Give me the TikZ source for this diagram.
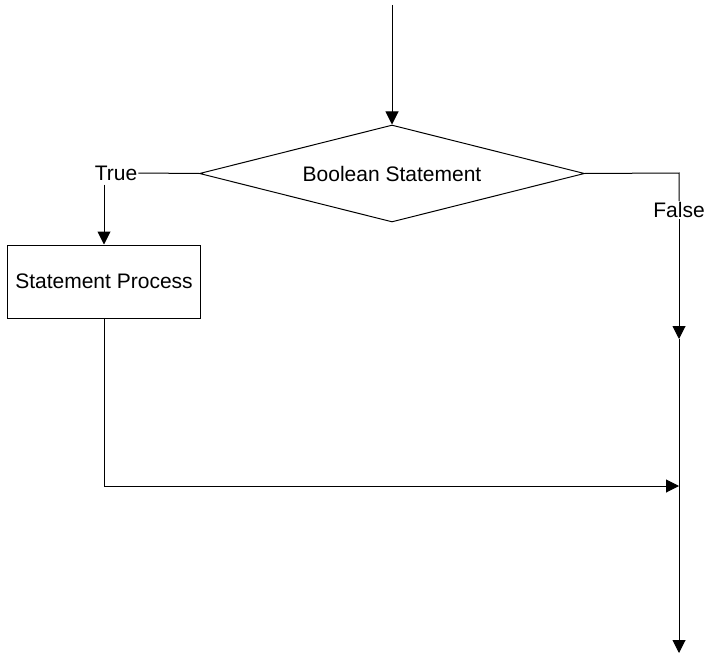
\documentclass[tikz,border=0pt]{standalone}
\usepackage{fontspec}
\setmainfont{Liberation Sans}
\usetikzlibrary{shapes.geometric,arrows.meta}
\begin{document}
\begin{tikzpicture}[x=1bp,y=-1bp,
  every node/.style={font=\fontsize{21bp}{25bp}\selectfont},
  line/.style={draw=black,line width=1bp},
  flow/.style={line,-{Triangle[length=13bp,width=13bp]}},
  decision/.style={line,shape=diamond,aspect=4,inner sep=0pt,
    minimum width=385bp,minimum height=97bp},
  process/.style={line,rectangle,inner sep=0pt,
    minimum width=192bp,minimum height=73bp},
  label/.style={inner sep=1bp}]
  \useasboundingbox (0,0) rectangle (709,655);

  % shapes
  \node[decision] (dec) at (392,173.5) {Boolean Statement};
  \node[process] (proc) at (104,281.5) {Statement Process};
  \node[label] (yes) at (116,173) {True};
  \node[label] (no) at (679,210) {False};

  % junction points on the right-hand trunk
  \coordinate (start) at (392,5);
  \coordinate (turn) at (679,173);
  \coordinate (mid) at (679,339);
  \coordinate (join) at (679,486);
  \coordinate (corner) at (104,486);
  \coordinate (finish) at (679,653);

  % connectors
  \draw[flow] (start) -- (dec.north);
  \draw[line] (dec.west) -- (yes.east);
  \draw[flow] (yes.south -| proc.north) ++(0,3) -- (proc.north);
  \draw[line] (dec.east) -- (turn) -- (no.north);
  \draw[flow] (no.south) -- (mid);
  \draw[line] (mid) -- (join);
  \draw[flow] (proc.south) -- (corner) -- (join);
  \draw[flow] (join) -- (finish);
\end{tikzpicture}
\end{document}
